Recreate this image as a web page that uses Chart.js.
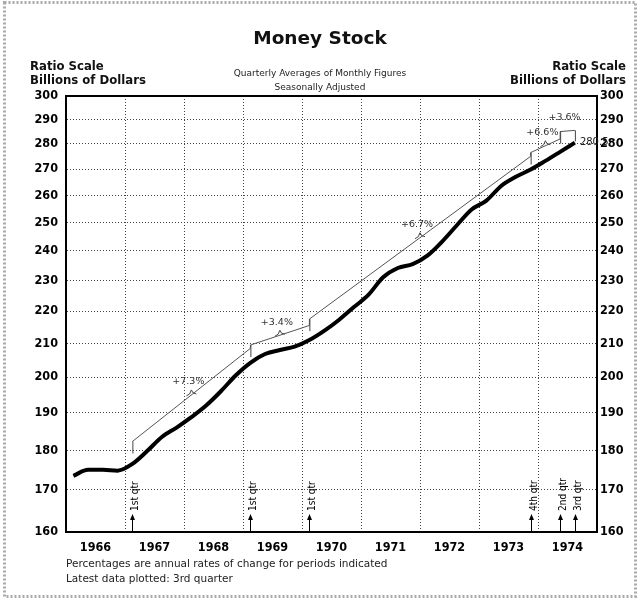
<!DOCTYPE html>
<html>
<head>
<meta charset="utf-8">
<script src="https://cdn.jsdelivr.net/npm/chart.js@4.4.0/dist/chart.umd.min.js"></script>
<style>
  body { margin: 0; background: #fff; }
  #wrap { position: relative; width: 640px; height: 602px; }
  #wrap canvas { position: absolute; left: 0; top: 0; }
  .t { position: absolute; white-space: nowrap; color: #111; line-height: 1; }
  .title { left: 0; width: 640px; text-align: center; top: 27px; font: bold 18.5px "DejaVu Sans", sans-serif; }
  .axt { font: bold 13px "DejaVu Sans Condensed", "Liberation Sans Narrow", sans-serif; }
  .sub { left: 0; width: 640px; text-align: center; font: 9px "DejaVu Sans", sans-serif; color: #222; }
  .foot { left: 66px; font: 10.5px "DejaVu Sans", sans-serif; color: #222; }
</style>
</head>
<body>
<div id="wrap">
  <canvas id="c" width="640" height="602"></canvas>
  <div class="t title">Money Stock</div>
  <div class="t axt" style="left:30px;top:58px">Ratio Scale</div>
  <div class="t axt" style="left:30px;top:72px">Billions of Dollars</div>
  <div class="t axt" style="right:14px;top:58px;text-align:right">Ratio Scale</div>
  <div class="t axt" style="right:14px;top:72px;text-align:right">Billions of Dollars</div>
  <div class="t sub" style="top:68px">Quarterly Averages of Monthly Figures</div>
  <div class="t sub" style="top:82px">Seasonally Adjusted</div>
  <div class="t foot" style="top:557px">Percentages are annual rates of change for periods indicated</div>
  <div class="t foot" style="top:572px">Latest data plotted: 3rd quarter</div>
</div>
<script>
  // quarterly averages, billions of dollars
  const quarters = [
    "1966 Q1", "1966 Q2", "1966 Q3", "1966 Q4",
    "1967 Q1", "1967 Q2", "1967 Q3", "1967 Q4",
    "1968 Q1", "1968 Q2", "1968 Q3", "1968 Q4",
    "1969 Q1", "1969 Q2", "1969 Q3", "1969 Q4",
    "1970 Q1", "1970 Q2", "1970 Q3", "1970 Q4",
    "1971 Q1", "1971 Q2", "1971 Q3", "1971 Q4",
    "1972 Q1", "1972 Q2", "1972 Q3", "1972 Q4",
    "1973 Q1", "1973 Q2", "1973 Q3", "1973 Q4",
    "1974 Q1", "1974 Q2", "1974 Q3",
  ]
  const moneyStock = [
    173.5, 175.0, 175.0, 174.8,
    176.5, 179.8, 183.5, 186.0,
    188.8, 192.0, 196.0, 200.5,
    204.2, 206.8, 208.0, 209.0,
    211.0, 213.8, 217.2, 221.2,
    225.2, 231.0, 234.1, 235.4,
    238.3, 243.2, 249.0, 254.7,
    258.0, 263.5, 267.0, 269.8,
    273.2, 276.8, 280.5,
  ]
  const yearLabels = ["1966", "1967", "1968", "1969", "1970", "1971", "1972", "1973", "1974", "1975"]
  const yTicks = [160, 170, 180, 190, 200, 210, 220, 230, 240, 250, 260, 270, 280, 290, 300]

  // rate-of-change trend segments (drawn above the series)
  const trendStartQtr = ["1967 Q1", "1969 Q1", "1970 Q1", "1973 Q4", "1974 Q2"]
  const trendEndQtr = ["1969 Q1", "1970 Q1", "1973 Q4", "1974 Q2", "1974 Q3"]
  const trendStartValue = [182.3, 209.5, 217.5, 276.5, 285.0]
  const trendEndValue = [208.5, 215.5, 275.0, 282.0, 285.5]
  const trendLabels = ["+7.3%", "+3.4%", "+6.7%", "+6.6%", "+3.6%"]

  const markerQtrs = ["1967 Q1", "1969 Q1", "1970 Q1", "1973 Q4", "1974 Q2", "1974 Q3"]
  const markerLabels = ["1st qtr", "1st qtr", "1st qtr", "4th qtr", "2nd qtr", "3rd qtr"]
  const latestLabel = "280.5"

  function qtrToTime(q) {
    var p = q.split(" Q")
    return Number(p[0]) + (Number(p[1]) - 0.5) / 4
  }

  var tickFont = { family: "'DejaVu Sans Condensed', 'Liberation Sans Narrow', sans-serif", size: 12.5, weight: "bold" }

  var seriesData = moneyStock.map((v, i) => ({ x: qtrToTime(quarters[i]), y: v }))
  var trendData = []
  trendStartQtr.forEach((q, i) => {
    trendData.push({ x: qtrToTime(q), y: trendStartValue[i] })
    trendData.push({ x: qtrToTime(trendEndQtr[i]), y: trendEndValue[i] })
  })

  var decorations = {
    id: "decorations",
    beforeDraw: (chart) => {
      var ctx = chart.ctx
      ctx.save()
      ctx.fillStyle = "#fff"
      ctx.fillRect(0, 0, chart.width, chart.height)
      ctx.strokeStyle = "#aaa"
      ctx.lineWidth = 3
      ctx.setLineDash([2, 2])
      ctx.strokeRect(4.5, 2.5, 631, 594)
      ctx.restore()
    },
    beforeDatasetsDraw: (chart) => {
      var a = chart.chartArea
      var ctx = chart.ctx
      ctx.save()
      ctx.strokeStyle = "#000"
      ctx.lineWidth = 2
      ctx.strokeRect(a.left, a.top, a.right - a.left, a.bottom - a.top)
      ctx.restore()
    },
    afterDatasetsDraw: (chart) => {
      var ctx = chart.ctx
      var xs = chart.scales.x
      var ys = chart.scales.y
      var bottom = chart.chartArea.bottom
      ctx.save()
      ctx.strokeStyle = "#444"
      ctx.fillStyle = "#333"
      ctx.lineWidth = 1

      // boundary ticks, mid-period braces and rate labels
      trendStartQtr.forEach((q, i) => {
        var t0 = qtrToTime(q)
        var t1 = qtrToTime(trendEndQtr[i])
        var x0 = xs.getPixelForValue(t0)
        var y0 = ys.getPixelForValue(trendStartValue[i])
        ctx.beginPath()
        ctx.moveTo(x0 + 0.5, y0)
        ctx.lineTo(x0 + 0.5, y0 + 12)
        ctx.stroke()
        if (i === trendStartQtr.length - 1) {
          var x1 = xs.getPixelForValue(t1)
          var y1 = ys.getPixelForValue(trendEndValue[i])
          ctx.beginPath()
          ctx.moveTo(x1 + 0.5, y1)
          ctx.lineTo(x1 + 0.5, y1 + 11)
          ctx.stroke()
        }
        var midV = Math.sqrt(trendStartValue[i] * trendEndValue[i])
        var xm = xs.getPixelForValue((t0 + t1) / 2)
        var ym = ys.getPixelForValue(midV)
        if (t1 - t0 > 0.3) {
          ctx.beginPath()
          ctx.moveTo(xm - 5, ym + 1)
          ctx.quadraticCurveTo(xm - 1, ym, xm, ym - 5)
          ctx.quadraticCurveTo(xm + 1, ym - 1, xm + 5, ym - 1)
          ctx.stroke()
        }
        ctx.font = "9.5px 'DejaVu Sans', sans-serif"
        ctx.textAlign = "center"
        ctx.textBaseline = "middle"
        ctx.fillText(trendLabels[i], xm - 3, ym - 13)
      })

      // quarter markers on the time axis
      ctx.strokeStyle = "#000"
      ctx.fillStyle = "#000"
      markerQtrs.forEach((q, i) => {
        var x = Math.round(xs.getPixelForValue(qtrToTime(q))) + 0.5
        ctx.beginPath()
        ctx.moveTo(x, bottom - 1)
        ctx.lineTo(x, bottom - 14)
        ctx.stroke()
        ctx.beginPath()
        ctx.moveTo(x, bottom - 18)
        ctx.lineTo(x - 2.5, bottom - 12)
        ctx.lineTo(x + 2.5, bottom - 12)
        ctx.closePath()
        ctx.fill()
        ctx.save()
        ctx.translate(x + 3, bottom - 21)
        ctx.rotate(-Math.PI / 2)
        ctx.font = "10px 'DejaVu Sans Condensed', 'DejaVu Sans', sans-serif"
        ctx.textAlign = "left"
        ctx.textBaseline = "middle"
        ctx.fillText(markerLabels[i], 0, 0)
        ctx.restore()
      })

      // latest value
      var last = seriesData[seriesData.length - 1]
      ctx.font = "10px 'DejaVu Sans', sans-serif"
      ctx.fillStyle = "#222"
      ctx.textAlign = "left"
      ctx.textBaseline = "middle"
      ctx.fillText(latestLabel, xs.getPixelForValue(last.x) + 5, ys.getPixelForValue(last.y))
      ctx.restore()
    },
  }

  function logAxis(position) {
    return {
      type: "logarithmic",
      position: position,
      min: yTicks[0],
      max: yTicks[yTicks.length - 1],
      afterBuildTicks: (scale) => {
        scale.ticks = yTicks.map((v) => ({ value: v }))
      },
      afterFit: (scale) => {
        scale.width = position === "left" ? 66 : 43
      },
      grid: {
        display: position === "left",
        color: "#444",
        lineWidth: 1,
        drawTicks: false,
      },
      border: { display: true, color: "#000", width: 2, dash: [1, 2] },
      ticks: {
        padding: position === "left" ? 8 : 3,
        color: "#000",
        font: tickFont,
        callback: (v) => String(v),
      },
    }
  }

  new Chart(document.getElementById("c"), {
    type: "line",
    data: {
      datasets: [
        {
          data: seriesData,
          borderColor: "#000",
          borderWidth: 4,
          pointRadius: 0,
          cubicInterpolationMode: "monotone",
          yAxisID: "y",
        },
        {
          data: trendData,
          borderColor: "#555",
          borderWidth: 1,
          pointRadius: 0,
          tension: 0,
          yAxisID: "y",
        },
      ],
    },
    options: {
      responsive: false,
      animation: false,
      devicePixelRatio: 1,
      layout: { padding: { top: 96, left: 0, right: 0, bottom: 0 } },
      plugins: { legend: { display: false }, tooltip: { enabled: false } },
      scales: {
        x: {
          type: "linear",
          min: 1966,
          max: 1975,
          afterBuildTicks: (scale) => {
            var ticks = []
            yearLabels.forEach((y, i) => {
              ticks.push({ value: Number(y) })
              if (i < yearLabels.length - 1) ticks.push({ value: Number(y) + 0.5 })
            })
            scale.ticks = ticks
          },
          afterFit: (scale) => {
            scale.height = 70
          },
          grid: {
            color: (c) => (c.tick && c.tick.value % 1 === 0 ? "#444" : "rgba(0,0,0,0)"),
            lineWidth: 1,
            drawTicks: false,
          },
          border: { display: true, color: "#000", width: 2, dash: [1, 2] },
          ticks: {
            autoSkip: false,
            maxRotation: 0,
            padding: 8,
            color: "#000",
            font: tickFont,
            callback: (v) => (v % 1 === 0 ? "" : String(Math.floor(v))),
          },
        },
        y: logAxis("left"),
        y2: logAxis("right"),
      },
    },
    plugins: [decorations],
  })
</script>
</body>
</html>
